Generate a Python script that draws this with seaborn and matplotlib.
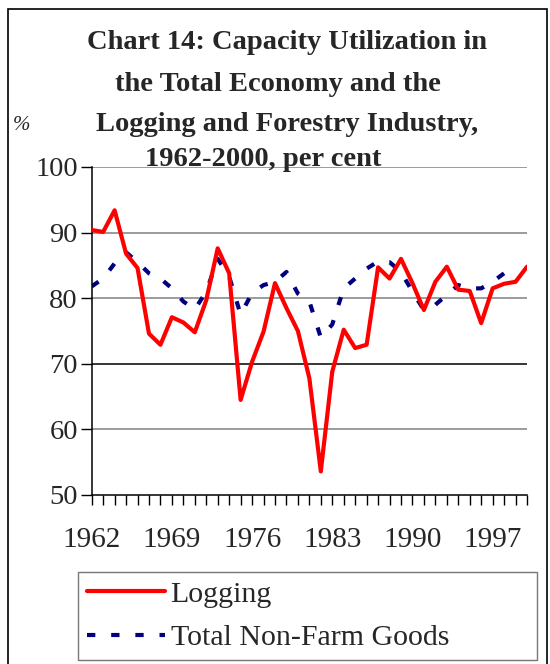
import numpy as np
import pandas as pd
import matplotlib
matplotlib.use("Agg")
import matplotlib.pyplot as plt
import seaborn as sns
from matplotlib.patches import Rectangle

# data
years = list(range(1962, 2001))
logging = [90.4, 90.1, 93.4, 86.8, 84.6, 74.6, 72.9, 77.1, 76.3, 74.8,
           79.7, 87.6, 83.8, 64.5, 70.3, 74.9, 82.3, 78.5, 75.0, 67.8,
           53.6, 68.8, 75.2, 72.4, 72.9, 84.7, 83.0, 86.0, 82.3, 78.2,
           82.5, 84.8, 81.3, 81.1, 76.2, 81.5, 82.2, 82.5, 84.8]
non_farm = [81.8, 83.0, 85.3, 87.0, 85.5, 83.8, 83.0, 81.5, 79.5, 78.3,
            81.0, 86.0, 83.3, 77.5, 80.8, 82.0, 82.5, 84.0, 80.7, 79.5,
            74.0, 76.0, 81.5, 83.0, 84.5, 85.6, 85.5, 84.0, 81.0, 78.2,
            79.0, 80.5, 82.0, 81.5, 81.5, 82.5, 83.8, 84.8, np.nan]
tick_years = [1962, 1969, 1976, 1983, 1990, 1997]
y_ticks = [50, 60, 70, 80, 90, 100]

df = pd.DataFrame({"year": years, "Logging": logging, "Total Non-Farm Goods": non_farm})

sns.set_style("white")
plt.rcParams["font.family"] = ["Liberation Serif", "DejaVu Serif"]

fig = plt.figure(figsize=(5.5, 6.64), dpi=100)
ax = fig.add_axes([91.7 / 550, 1 - 495 / 664, (527 - 91.7) / 550, (495 - 167) / 664])

for yv in y_ticks[1:]:
    ax.axhline(yv, color="black" if yv == 70 else "#808080", lw=1.1, zorder=0)

sns.lineplot(data=df, x="year", y="Logging", color="#FF0000", lw=3.0,
             ax=ax, label="Logging", zorder=3)
sns.lineplot(data=df, x="year", y="Total Non-Farm Goods", color="#000080", lw=3.0,
             ax=ax, label="Total Non-Farm Goods", zorder=2)
ax.lines[-1].set_linestyle((0, (2.0, 3.8)))
ax.lines[-1].set_dash_capstyle("butt")

ax.set_xlim(1962, 2000)
ax.set_ylim(50, 100)
ax.set_xticks(tick_years)
ax.set_xticks(years, minor=True)
ax.set_yticks(y_ticks)
ax.set_xlabel("")
ax.set_ylabel("")
ax.tick_params(axis="x", which="both", direction="out", length=7, width=1,
               color="black", labelsize=21, pad=16, bottom=True)
ax.tick_params(axis="y", direction="out", length=8, width=1, color="black",
               labelsize=20.5, pad=2, left=True)
for s in ["top", "right"]:
    ax.spines[s].set_visible(False)
for s in ["left", "bottom"]:
    ax.spines[s].set_color("black")
    ax.spines[s].set_linewidth(1.1)

ax.get_legend().remove()
h, l = ax.get_legend_handles_labels()
leg = fig.legend(h, l, loc="upper left", mode="expand",
                 bbox_to_anchor=(78 / 550, 0.0, 459 / 550, 1 - 572 / 664),
                 borderaxespad=0, fontsize=21.5, frameon=True, fancybox=False,
                 handlelength=2.6, handletextpad=0.2, labelspacing=0.55,
                 borderpad=0.3)
leg.get_frame().set_edgecolor("#555555")
leg.get_frame().set_linewidth(1.0)

# title lines
title_lines = ["Chart 14: Capacity Utilization in", "the Total Economy and the",
               "Logging and Forestry Industry,", "1962-2000, per cent"]
centers = [287, 278, 287, 263]
baselines = [49, 91, 131, 166]
for t, cx, by in zip(title_lines, centers, baselines):
    fig.text(cx / 550, 1 - by / 664, t, ha="center", va="baseline",
             fontsize=20.5, fontweight="bold")
fig.text(21 / 550, 1 - 125 / 664, "%", ha="center", va="center",
         fontsize=15, fontstyle="italic")

fig.patches.append(Rectangle((8 / 550, -0.1), 539 / 550, 1.1 - 9 / 664,
                             transform=fig.transFigure, fill=False,
                             edgecolor="black", lw=1.2))

fig.savefig("out.png", dpi=100)
